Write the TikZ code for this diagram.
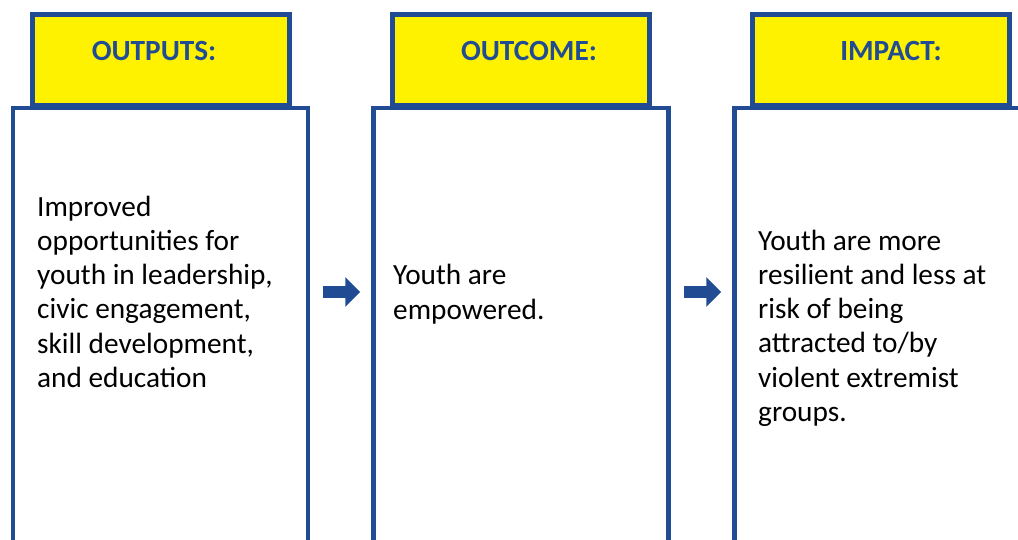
\documentclass[tikz,border=0pt]{standalone}
\usepackage{fontspec}
\setmainfont{Carlito}
\usepackage{tikz}
\usetikzlibrary{arrows.meta}
\definecolor{frameblue}{RGB}{33,76,148}
\definecolor{headyellow}{RGB}{255,242,0}

\begin{document}
\begin{tikzpicture}[x=1pt,y=-1pt,
    body/.style={draw=frameblue,line width=4.5pt,fill=white,minimum width=295pt,minimum height=480pt,anchor=north,inner sep=0pt},
    head/.style={draw=frameblue,line width=4.5pt,fill=headyellow,minimum width=257pt,minimum height=90.5pt,inner sep=0pt},
    headtext/.style={text=frameblue,font=\fontsize{29.3}{32}\selectfont\bfseries,inner sep=0pt},
    bodytext/.style={align=left,anchor=base west,inner sep=0pt,font=\fontsize{29.3}{34.3}\selectfont},
    flow/.style={draw=frameblue,line width=12pt,-{Triangle[length=15pt,width=29pt]}}]
    \useasboundingbox (0,0) rectangle (1018,539);
    \clip (0,0) rectangle (1018,539);
    \node[body] (b1) at (160.5,105.5) {};
    \node[body] (b2) at (521,105.5) {};
    \node[body] (b3) at (882,105.5) {};
    \node[head] (h1) at (161,59.75) {};
    \node[head] (h2) at (521,59.75) {};
    \node[head] (h3) at (881,59.75) {};
    \node[headtext] (t1) at (154,51) {OUTPUTS:};
    \node[headtext] (t2) at (529,51) {OUTCOME:};
    \node[headtext] (t3) at (891,51) {IMPACT:};
    % base anchor sits on the last line
    \node[bodytext] (x1) at (37,387.5) {Improved\\opportunities for\\youth in leadership,\\civic engagement,\\skill development,\\and education};
    \node[bodytext] (x2) at (393,319) {Youth are\\empowered.};
    \node[bodytext] (x3) at (758,421.5) {Youth are more\\resilient and less at\\risk of being\\attracted to/by\\violent extremist\\groups.};
    \coordinate (arrowy) at (0,292);
    \draw[flow] ([xshift=13pt]b1.east |- arrowy) -- ([xshift=-11pt]b2.west |- arrowy);
    \draw[flow] ([xshift=13pt]b2.east |- arrowy) -- ([xshift=-11pt]b3.west |- arrowy);
\end{tikzpicture}
\end{document}
